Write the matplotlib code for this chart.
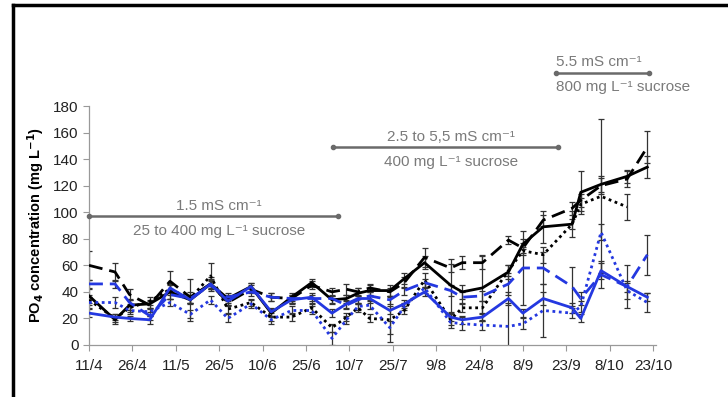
import matplotlib
matplotlib.use("Agg")
import matplotlib.pyplot as plt
import numpy as np
import pandas as pd
from matplotlib.lines import Line2D

plt.rcParams['font.family'] = ['Liberation Sans', 'DejaVu Sans']
plt.rcParams['mathtext.default'] = 'regular'

# sampling dates (day/month)
fechas = ["11/4", "20/4", "25/4", "2/5", "9/5", "16/5", "23/5", "29/5", "6/6", "13/6",
          "20/6", "27/6", "4/7", "9/7", "13/7", "17/7", "24/7", "29/7", "5/8", "14/8",
          "18/8", "25/8", "3/9", "8/9", "15/9", "25/9", "28/9", "5/10", "14/10", "21/10"]

negro_solido = [37, 19, 30, 31, 40, 34, 46, 35, 44, 24, 36, 47, 34, 35, 39, 41, 41, 50, 62, 45,
                40, 43, 55, 76, 89, 91, 115, 121, 127, 134]
negro_guion = [60, 55, 38, 30, 48, 36, 46, 32, 42, 36, 35, 45, 40, 42, 40, 43, 40, 47, 66, 58,
               62, 62, 79, 73, 94, 103, 109, 120, 125, 149]
negro_punto = [34, 20, 28, 33, 42, 35, 52, 27, 32, 21, 21, 28, 13, 21, 28, 20, 19, 26, 49, 19,
               28, 28, 56, 71, 68, 91, 106, 112, 104, np.nan]
azul_solido = [24, 21, 20, 19, 43, 34, 46, 33, 44, 25, 34, 36, 24, 31, 35, 35, 26, 31, 40, 21,
               19, 21, 35, 24, 35, 28, 20, 56, 44, 36]
azul_guion = [46, 46, 32, 22, 38, 35, 45, 36, 40, 36, 35, 35, 35, 30, 34, 37, 34, 41, 47, 41,
              36, 37, 46, 58, 58, 44, 35, 53, 44, 68]
azul_punto = [32, 32, 26, 25, 32, 23, 34, 20, 31, 19, 26, 26, 5, 19, 29, 30, 13, 29, 43, 17,
              16, 15, 14, 16, 26, 24, 29, 85, 41, 32]

err_negro_solido = [5, 3, 4, 3, 5, 16, 4, 3, 3, 3, 3, 3, 3, 3, 4, 4, 4, 4, 5, 20,
                    5, 25, 5, 4, 12, 10, 16, 6, 5, 8]
err_negro_guion = [11, 7, 4, 3, 8, 4, 5, 3, 3, 3, 3, 3, 3, 4, 3, 3, 3, 4, 7, 3,
                   5, 5, 3, 4, 4, 5, 5, 6, 6, 12]
err_negro_punto = [4, 3, 3, 3, 4, 3, 10, 3, 3, 3, 3, 3, 3, 3, 3, 3, 17, 3, 5, 4,
                   3, 5, 4, 3, 6, 4, 5, 58, 10, np.nan]
err_azul_solido = [3, 2, 2, 3, 3, 3, 3, 3, 3, 3, 3, 3, 3, 3, 3, 3, 3, 3, 3, 3,
                   3, 3, 5, 3, 5, 4, 3, 6, 4, 3]
err_azul_guion = [3, 3, 3, 3, 3, 3, 3, 3, 3, 3, 3, 3, 3, 3, 3, 3, 3, 3, 3, 4,
                  4, 4, 8, 28, 12, 15, 5, 10, 16, 15]
err_azul_punto = [4, 4, 3, 3, 3, 3, 3, 3, 3, 3, 3, 3, 5, 3, 3, 3, 5, 3, 4, 4,
                  5, 4, 18, 4, 20, 4, 4, 6, 6, 7]

etiquetas_x = ["11/4", "26/4", "11/5", "26/5", "10/6", "25/6", "10/7", "25/7", "9/8",
               "24/8", "8/9", "23/9", "8/10", "23/10"]

anio = "2013"
x = pd.to_datetime([f + "/" + anio for f in fechas], format="%d/%m/%Y")
xt = pd.to_datetime([f + "/" + anio for f in etiquetas_x], format="%d/%m/%Y")

fig = plt.figure(figsize=(7.28, 3.97), dpi=100)
ax = fig.add_axes([89 / 728, 1 - 345 / 397, (656 - 89) / 728, (345 - 106) / 397])

azul = '#2438e0'
series = [
    (negro_solido, err_negro_solido, 'black', '-'),
    (negro_guion, err_negro_guion, 'black', (0, (5, 2.5))),
    (negro_punto, err_negro_punto, 'black', (0, (1, 1.3))),
    (azul_solido, err_azul_solido, azul, '-'),
    (azul_guion, err_azul_guion, azul, (0, (5, 2.5))),
    (azul_punto, err_azul_punto, azul, (0, (1, 1.3))),
]
for vals, err, col, ls in series:
    ax.errorbar(x, vals, yerr=err, fmt='none', ecolor='#333333', elinewidth=0.9,
                capsize=2, capthick=0.9, zorder=2)
    ax.plot(x, vals, color=col, linestyle=ls, linewidth=2, zorder=3)

ax.set_ylim(0, 180)
ax.set_yticks(range(0, 181, 20))
ax.set_xlim(xt[0], xt[0] + pd.Timedelta(days=196))
ax.set_xticks(xt)
ax.set_xticklabels(etiquetas_x)
ax.tick_params(axis='both', labelsize=11, color='#999999', length=4, width=0.8,
               labelcolor='#222222')
ax.tick_params(axis='x', pad=6)
for s in ['top', 'right']:
    ax.spines[s].set_visible(False)
for s in ['left', 'bottom']:
    ax.spines[s].set_color('#999999')
    ax.spines[s].set_linewidth(0.9)
ax.set_ylabel(r'PO$_\mathbf{4}$ concentration (mg L$^\mathbf{-1}$)', fontsize=10.5,
              fontweight='bold', labelpad=5)

# treatment periods
gris = '#7a7a7a'
periodos = [
    (0, 86, 97, "1.5 mS cm⁻¹", "25 to 400 mg L⁻¹ sucrose"),
    (84.5, 162, 149, "2.5 to 5,5 mS cm⁻¹", "400 mg L⁻¹ sucrose"),
    (161.4, 193.6, 205, "5.5 mS cm⁻¹", "800 mg L⁻¹ sucrose"),
]
for i, (d0, d1, yv, t1, t2) in enumerate(periodos):
    xa = [xt[0] + pd.Timedelta(days=d0), xt[0] + pd.Timedelta(days=d1)]
    ax.plot(xa, [yv, yv], color='#6a6a6a', lw=1.8, marker='o', markersize=3,
            clip_on=False, zorder=4)
    if i < 2:
        xm = xt[0] + pd.Timedelta(days=(d0 + d1) / 2 + 2)
        ha = 'center'
    else:
        xm = xa[0]
        ha = 'left'
    ax.text(xm, yv + 8, t1, color=gris, fontsize=11, ha=ha, va='center', clip_on=False)
    ax.text(xm, yv - 11, t2, color=gris, fontsize=11, ha=ha, va='center', clip_on=False)

# frame of the original figure
fig.add_artist(Line2D([13 / 728, 13 / 728], [0, 1 - 5 / 397], transform=fig.transFigure,
                      color='black', lw=2.5))
fig.add_artist(Line2D([13 / 728, 1], [1 - 5 / 397, 1 - 5 / 397], transform=fig.transFigure,
                      color='black', lw=2.5))

fig.savefig('out.png', dpi=100)
